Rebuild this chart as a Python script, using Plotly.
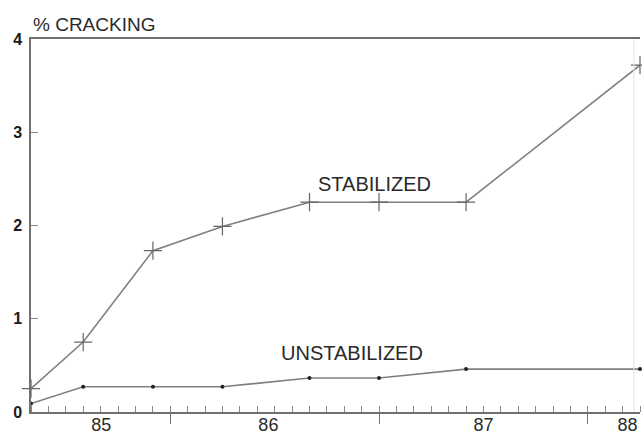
import plotly.graph_objects as go

# Observation dates in decimal years (19xx)
stab_x = [85.333, 85.583, 85.917, 86.25, 86.667, 87.0, 87.417, 88.25]
stab_y = [0.25, 0.75, 1.73, 1.99, 2.25, 2.25, 2.25, 3.72]

unstab_x = [85.333, 85.583, 85.917, 86.25, 86.667, 87.0, 87.417, 88.25]
unstab_y = [0.09, 0.27, 0.27, 0.27, 0.365, 0.365, 0.46, 0.46]

year_label_pos = [85.67, 86.47, 87.5, 88.19]
year_labels = ["85", "86", "87", "88"]
y_ticks = [0, 1, 2, 3, 4]

x_range = [85.333, 88.25]
line_col = "#808080"
text_col = "#2a2a2a"
font = "Liberation Sans, Arial, sans-serif"

fig = go.Figure()
fig.add_trace(go.Scatter(
    x=stab_x, y=stab_y, mode="lines+markers",
    line=dict(color=line_col, width=1.6),
    marker=dict(symbol="cross-thin", size=13, line=dict(color="#666", width=1.2)),
    cliponaxis=False, showlegend=False))
fig.add_trace(go.Scatter(
    x=unstab_x, y=unstab_y, mode="lines+markers",
    line=dict(color=line_col, width=1.6),
    marker=dict(symbol="circle", size=4, color="#222"),
    cliponaxis=False, showlegend=False))

# invisible trace so the labelling axis is drawn
fig.add_trace(go.Scatter(x=[x_range[0]], y=[0], xaxis="x2", mode="markers",
                         marker=dict(opacity=0), showlegend=False, hoverinfo="skip"))

fig.add_annotation(text="STABILIZED", x=86.98, y=2.44, xref="x", yref="y",
                   showarrow=False, font=dict(family=font, size=20, color=text_col))
fig.add_annotation(text="UNSTABILIZED", x=86.87, y=0.63, xref="x", yref="y",
                   showarrow=False, font=dict(family=font, size=20, color=text_col))
fig.add_annotation(text="% CRACKING", x=0, y=1, xref="paper", yref="paper",
                   xanchor="left", yanchor="bottom", yshift=2, showarrow=False,
                   font=dict(family=font, size=19, color=text_col))

# faint right-hand frame edge
fig.add_shape(type="line", xref="paper", yref="paper", x0=0.99, x1=0.99, y0=0, y1=1,
              line=dict(color="#e2e2e2", width=1))

fig.update_layout(
    width=642, height=435,
    margin=dict(l=31, r=2, t=39, b=23, autoexpand=False),
    paper_bgcolor="white", plot_bgcolor="white",
    xaxis=dict(range=x_range, showgrid=False, zeroline=False, automargin=False,
               showline=True, linecolor="#707070", linewidth=1.5, mirror=True,
               tickmode="linear", tick0=86.0, dtick=1.0, showticklabels=False,
               ticks="outside", ticklen=10, tickwidth=1, tickcolor="#777",
               minor=dict(tickmode="linear", dtick=1 / 12, tick0=86.0, ticks="inside",
                          ticklen=6, tickwidth=1, tickcolor="#888", showgrid=False)),
    xaxis2=dict(range=x_range, overlaying="x", side="bottom", showgrid=False,
                zeroline=False, showline=False, tickvals=year_label_pos, automargin=False,
                ticktext=year_labels, ticks="", ticklabelstandoff=0,
                tickfont=dict(family=font, size=18, color=text_col)),
    yaxis=dict(range=[0, 4], showgrid=False, zeroline=False, automargin=False,
               showline=True, linecolor="#707070", linewidth=1.5,
               tickvals=y_ticks, ticks="inside", ticklen=7, tickwidth=1, tickcolor="#888",
               tickfont=dict(family=font, size=16, color="#1a1a1a", weight="bold"),
               ticklabelstandoff=4),
)

fig.write_html("out.html")
